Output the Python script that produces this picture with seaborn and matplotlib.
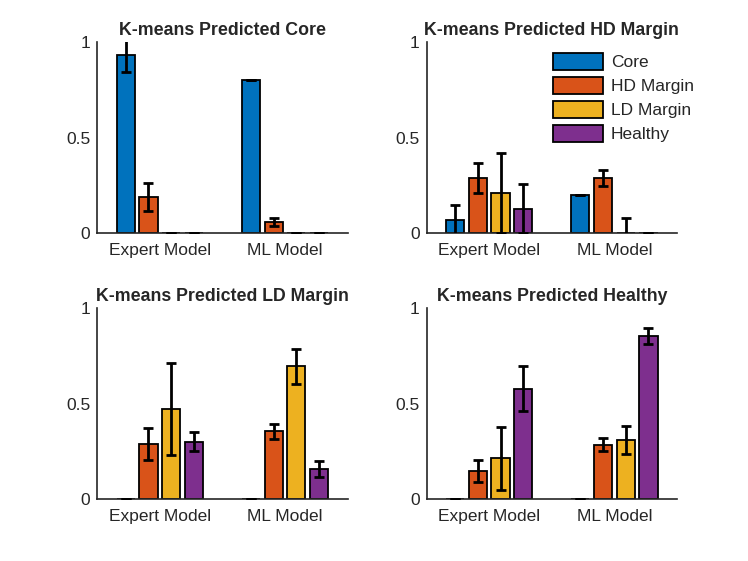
import numpy as np
import pandas as pd
import matplotlib
matplotlib.use('Agg')
import matplotlib.pyplot as plt
import seaborn as sns

models = ['Expert Model', 'ML Model']
tissues = ['Core', 'HD Margin', 'LD Margin', 'Healthy']
colors = ['#0072BD', '#D95319', '#EDB120', '#7E2F8E']

# mean fraction per tissue class, one row per model (Expert, ML)
pred_core = [[0.93, 0.19, 0.0, 0.0], [0.80, 0.06, 0.0, 0.0]]
pred_core_err = [[0.085, 0.075, 0.0, 0.0], [0.0, 0.022, 0.0, 0.0]]
pred_hd = [[0.07, 0.29, 0.21, 0.13], [0.20, 0.29, 0.0, 0.0]]
pred_hd_err = [[0.078, 0.08, 0.21, 0.128], [0.0, 0.04, 0.082, 0.0]]
pred_ld = [[0.0, 0.29, 0.47, 0.30], [0.0, 0.355, 0.694, 0.158]]
pred_ld_err = [[0.0, 0.083, 0.24, 0.05], [0.0, 0.04, 0.09, 0.042]]
pred_healthy = [[0.0, 0.149, 0.214, 0.578], [0.0, 0.285, 0.311, 0.851]]
pred_healthy_err = [[0.0, 0.057, 0.166, 0.117], [0.0, 0.033, 0.074, 0.042]]

titles = ['K-means Predicted Core', 'K-means Predicted HD Margin',
          'K-means Predicted LD Margin', 'K-means Predicted Healthy']

sns.set_style('white')
plt.rcParams['font.family'] = ['Liberation Sans', 'DejaVu Sans']
plt.rcParams['font.size'] = 12.5

fig = plt.figure(figsize=(7.48, 5.61), dpi=100)
# MATLAB-like subplot positions
positions = [[0.13, 0.5838, 0.3347, 0.3412], [0.5703, 0.5838, 0.3347, 0.3412],
             [0.13, 0.11, 0.3347, 0.3412], [0.5703, 0.11, 0.3347, 0.3412]]

panels = [(pred_core, pred_core_err), (pred_hd, pred_hd_err),
          (pred_ld, pred_ld_err), (pred_healthy, pred_healthy_err)]

for i, (means, errs) in enumerate(panels):
    ax = fig.add_axes(positions[i])
    df = pd.DataFrame({
        'model': np.repeat(models, len(tissues)),
        'tissue': tissues * len(models),
        'value': np.ravel(means),
    })
    sns.barplot(data=df, x='model', y='value', hue='tissue', hue_order=tissues,
                palette=colors, saturation=1, width=0.727, gap=0.2,
                edgecolor='black', linewidth=1.3, errorbar=None,
                legend=(i == 1), ax=ax)

    # error bars at the bar centres
    bar_groups = list(ax.containers)
    for j, cont in enumerate(bar_groups):
        xs = [b.get_x() + b.get_width() / 2 for b in cont]
        ys = [b.get_height() for b in cont]
        yerr = [errs[k][j] for k in range(len(models))]
        ax.errorbar(xs, ys, yerr=yerr, fmt='none', ecolor='black',
                    elinewidth=2, capsize=3.3, capthick=2, zorder=5)

    ax.set_xlim(-0.5, len(models) - 0.5)
    ax.set_ylim(0, 1)
    ax.set_yticks([0, 0.5, 1])
    ax.set_yticklabels(['0', '0.5', '1'])
    ax.set_xlabel('')
    ax.set_ylabel('')
    ax.set_title(titles[i], fontsize=12.8, fontweight='bold', pad=5)
    ax.tick_params(axis='y', direction='in', length=3, pad=5, colors='#262626', labelsize=12.5)
    ax.tick_params(axis='x', length=0, pad=7, colors='#262626', labelsize=12.5)
    sns.despine(ax=ax)
    for side in ['left', 'bottom']:
        ax.spines[side].set_color('#262626')
        ax.spines[side].set_linewidth(1.2)

    if i == 1:
        handles, labels = ax.get_legend_handles_labels()
        ax.legend(handles, labels, loc='upper left', bbox_to_anchor=(0.47, 0.99),
                  frameon=False, borderpad=0, handlelength=2.9, handleheight=1.15,
                  labelspacing=0.38, handletextpad=0.45, fontsize=12.5)

plt.savefig('out.png', dpi=100)
